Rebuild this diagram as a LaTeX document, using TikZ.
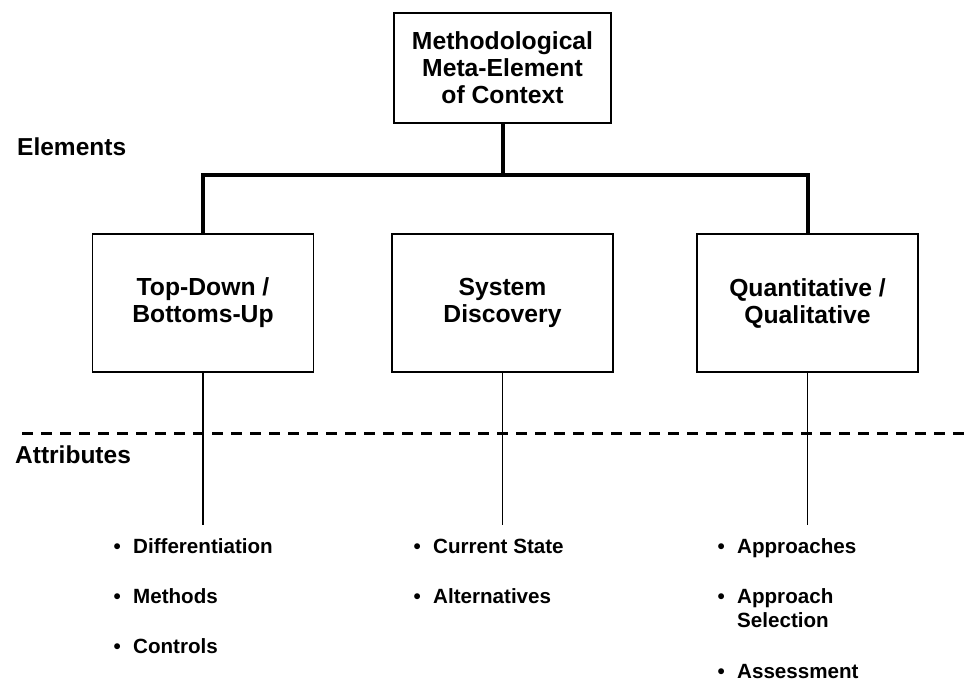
\documentclass[tikz,border=0pt]{standalone}
\usepackage{fontspec}
\setmainfont{Liberation Sans}
\begin{document}
\begin{tikzpicture}[x=1pt,y=-1pt,
  box/.style={draw, line width=1.3pt, align=center, font=\bfseries\fontsize{24.7}{27}\selectfont, inner sep=0pt},
  elem/.style={box, minimum width=221pt, minimum height=138pt},
  thickline/.style={line width=4pt},
  thinline/.style={line width=1.3pt},
  dashline/.style={line width=3pt, dash pattern=on 11pt off 8pt},
  lbl/.style={font=\bfseries\fontsize{24.5}{28}\selectfont, anchor=base west, inner sep=0pt},
  item/.style={font=\bfseries\fontsize{20.6}{24}\selectfont, anchor=base west, inner sep=0pt}]
\newcommand{\bul}[1]{\begin{tabular}[t]{@{}l@{}l@{}}\makebox[19.5pt][l]{•}&#1\end{tabular}}
\newcommand{\bulb}[2]{\begin{tabular}[t]{@{}l@{}l@{}}\makebox[19.5pt][l]{•}&#1\\&#2\end{tabular}}
\path[use as bounding box] (0,0) rectangle (969,682);

\node[box, minimum width=217pt, minimum height=110pt] (top) at (502.5,68) {Methodological\\Meta-Element\\of Context};

\node[elem] (e1) at (203,303) {Top-Down /\\Bottoms-Up};
\node[elem] (e2) at (502.5,303) {System\\Discovery};
\node[elem] (e3) at (807.5,303) {Quantitative /\\Qualitative};

\coordinate (bar) at (502.5,175);
\draw[thickline] (top.south) -- (bar);
\draw[thickline] (e1.north) |- (bar) -| (e3.north);

\coordinate (l1) at (203,525);
\coordinate (l2) at (502.5,525);
\coordinate (l3) at (807.5,525);
\draw[thinline] (e1.south) -- (l1);
\draw[thinline] (e2.south) -- (l2);
\draw[thinline] (e3.south) -- (l3);

\coordinate (dl) at (22,433);
\coordinate (dr) at (969,433);
\draw[dashline] (dl) -- (dr);

\node[lbl] (elements) at (17,155) {Elements};
\node[lbl] (attributes) at (15,463) {Attributes};

\node[item] (a1) at (113.5,553) {\bul{Differentiation}};
\node[item] (a2) at (113.5,603) {\bul{Methods}};
\node[item] (a3) at (113.5,653) {\bul{Controls}};

\node[item] (b1) at (413.5,553) {\bul{Current State}};
\node[item] (b2) at (413.5,603) {\bul{Alternatives}};

\node[item] (c1) at (717.5,553) {\bul{Approaches}};
\node[item] (c2) at (717.5,603) {\bulb{Approach}{Selection}};
\node[item] (c3) at (717.5,678) {\bul{Assessment}};
\end{tikzpicture}
\end{document}
